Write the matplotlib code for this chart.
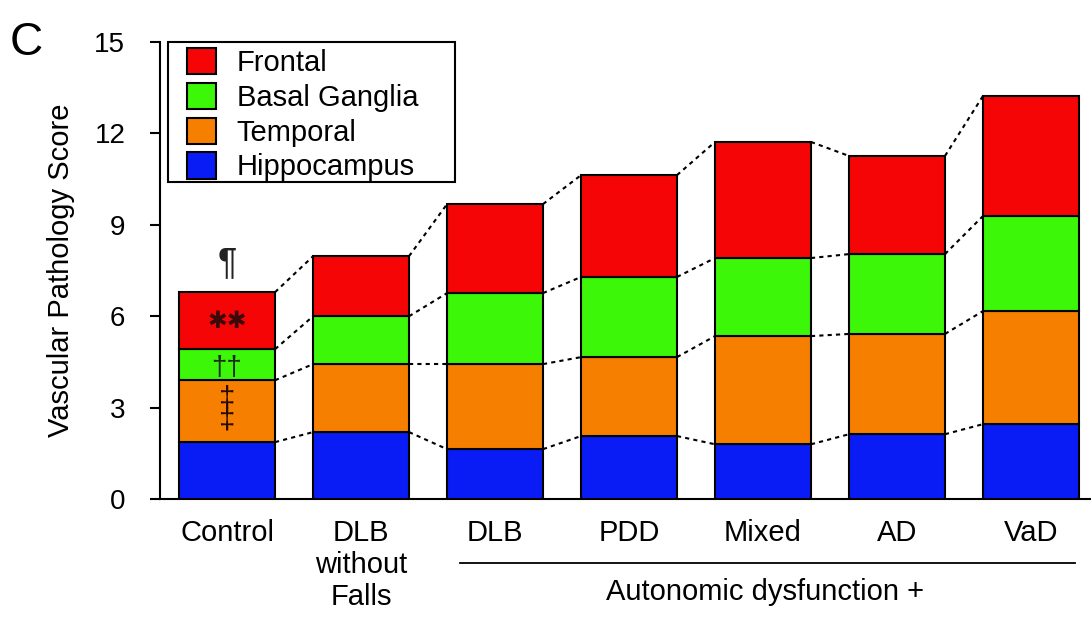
import matplotlib
matplotlib.use("Agg")
import matplotlib.pyplot as plt
from matplotlib.patches import Rectangle
import numpy as np

plt.rcParams['font.family'] = ['Liberation Sans', 'DejaVu Sans']

categories = ["Control", "DLB\nwithout\nFalls", "DLB", "PDD", "Mixed", "AD", "VaD"]
hippocampus = [1.87, 2.20, 1.64, 2.07, 1.80, 2.13, 2.46]
temporal    = [2.03, 2.23, 2.79, 2.59, 3.55, 3.29, 3.71]
basal       = [1.02, 1.57, 2.33, 2.63, 2.56, 2.62, 3.12]
frontal     = [1.87, 1.97, 2.92, 3.34, 3.81, 3.22, 3.94]
series_names = ["Hippocampus", "Temporal", "Basal Ganglia", "Frontal"]
colors = ["#0a1cf5", "#f77f00", "#3cf708", "#f50505"]
yticks = [0, 3, 6, 9, 12, 15]
group_label = "Autonomic dysfunction +"

fig = plt.figure(figsize=(10.91, 6.17), dpi=100)
ax = fig.add_axes([0.1467, 0.191, 0.8533, 0.741])

x = np.arange(len(categories))
w = 0.716
data = [hippocampus, temporal, basal, frontal]
bottom = np.zeros(len(categories))
handles = {}
tops = []
for vals, name, c in zip(data, series_names, colors):
    vals = np.array(vals)
    b = ax.bar(x, vals, w, bottom=bottom, color=c, edgecolor='black', linewidth=1.5, zorder=3)
    handles[name] = b
    bottom = bottom + vals
    tops.append(bottom.copy())

# dotted connectors
for t in tops:
    for i in range(len(categories) - 1):
        ax.plot([x[i] + w / 2, x[i + 1] - w / 2], [t[i], t[i + 1]], ls=(0, (2, 2)),
                color='black', lw=1.5, zorder=2)

ax.set_xlim(-0.5, 6.448)
ax.set_ylim(0, 15)
ax.set_yticks(yticks)
ax.tick_params(axis='y', direction='out', length=7, width=1.5, labelsize=20, pad=18)
ax.set_xticks(x)
ax.set_xticklabels(categories, fontsize=21, va='top', linespacing=1.2)
ax.tick_params(axis='x', length=0, pad=14)
for s in ['top', 'right']:
    ax.spines[s].set_visible(False)
ax.spines['left'].set_linewidth(1.5)
ax.spines['bottom'].set_linewidth(1.5)
ax.set_ylabel("Vascular Pathology Score", fontsize=21, labelpad=14)

# annotations on control bar
ax.text(x[0], tops[3][0] + 0.35, "¶", ha='center', va='bottom', fontsize=26, color='#222222')
ax.text(x[0], (tops[2][0] + tops[3][0]) / 2, "✱✱", ha='center', va='center', fontsize=17, color='#3a0a0a',
        family=['DejaVu Sans'])
ax.text(x[0], (tops[1][0] + tops[2][0]) / 2 - 0.1, "††", ha='center', va='center', fontsize=20, color='#1a2a1a')
ax.text(x[0], (tops[0][0] + tops[1][0]) / 2 + 0.05, "‡\n‡", ha='center', va='center', fontsize=21,
        color='#2a0a00', linespacing=0.75)

leg = ax.legend([handles[n] for n in ["Frontal", "Basal Ganglia", "Temporal", "Hippocampus"]],
                ["Frontal", "Basal Ganglia", "Temporal", "Hippocampus"],
                loc='upper left', bbox_to_anchor=(0.0226, 1.0), fontsize=21, frameon=False,
                handlelength=1.0, handleheight=1.0,
                handletextpad=0.7, labelspacing=0.2, borderpad=0.2, borderaxespad=0)
ax.add_patch(Rectangle((0.0086, 0.694), 0.3083, 0.306, transform=ax.transAxes, fill=False,
                       edgecolor='black', lw=1.5, zorder=5, clip_on=False))

# group line
fig.add_artist(plt.Line2D([0.422, 0.985], [0.0875, 0.0875], color='black', lw=1.3, transform=fig.transFigure))
fig.text(0.701, 0.0405, group_label, ha='center', va='center', fontsize=21)

fig.text(0.009, 0.911, "C", fontsize=33, ha='left', va='baseline')

fig.savefig("out.png", dpi=100)
